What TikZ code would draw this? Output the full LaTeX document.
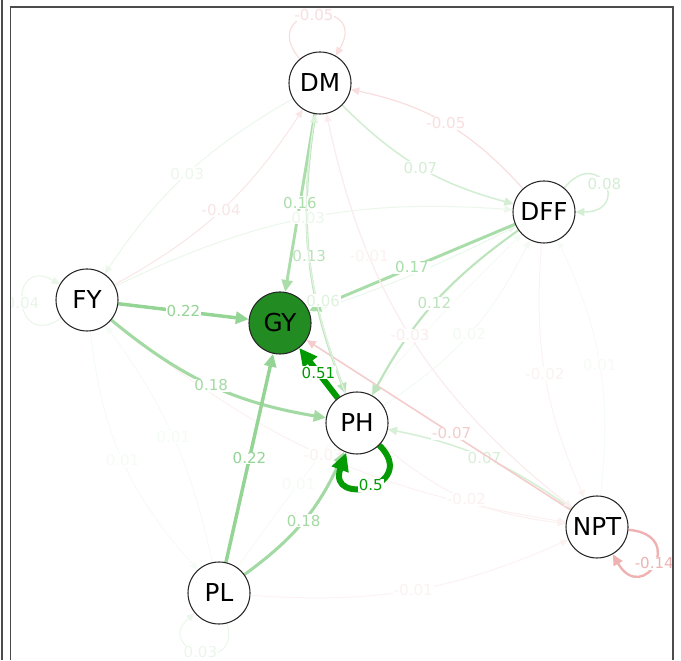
\documentclass[tikz,border=0pt]{standalone}
\usepackage{fontspec}
\setsansfont{DejaVu Sans}
\usetikzlibrary{arrows.meta,backgrounds}
\definecolor{posc}{HTML}{009900}
\definecolor{negc}{HTML}{C80000}
\definecolor{gynode}{HTML}{228B22}
\tikzset{
  var/.style={circle, draw=black!85, line width=0.8pt, fill=white, minimum size=46.5pt, inner sep=0pt, font=\sffamily\fontsize{18.5}{21}\selectfont},
  wt/.style={fill=white, inner sep=0.6pt, font=\sffamily\fontsize{11.3}{13}\selectfont},
  pe/.style 2 args={draw=posc!#1!white, text=posc!#1!white, line width=#2, -{Triangle[length=4.5pt 2, width=3.8pt 2]}},
  ne/.style 2 args={draw=negc!#1!white, text=negc!#1!white, line width=#2, -{Triangle[length=4.5pt 2, width=3.8pt 2]}},
  frame/.style={draw=black!70, line width=0.9pt},
}
\begin{document}
\begin{tikzpicture}[x=0.75pt,y=0.75pt]
\useasboundingbox (0,0) rectangle (681,660);
% variables
\node[var] (DM) at (320,577) {DM};
\node[var] (DFF) at (544,448) {DFF};
\node[var] (FY) at (87,360) {FY};
\node[var, fill=gynode] (GY) at (280,337) {GY};
\node[var] (PH) at (357,237) {PH};
\node[var] (NPT) at (597,133) {NPT};
\node[var] (PL) at (219,67) {PL};
\begin{scope}[on background layer]
\clip (10.5,0) rectangle (673,653);
% weak edges
\draw[pe={4}{0.75pt}] (FY) to[bend right=18] node[wt]{0.01} (PL);
\draw[pe={4}{0.75pt}] (PL) to[bend right=12] node[wt]{0.01} (FY);
\draw[pe={4}{0.75pt}] (PL) to[bend left=5] node[wt, pos=0.22]{0.01} (DFF);
\draw[ne={6}{0.75pt}] (FY) to[bend right=15] node[wt]{-0.03} (NPT);
\draw[pe={5}{0.75pt}] (PH) to[bend right=15] node[wt]{0.02} (DFF);
\draw[ne={5}{0.75pt}] (DFF) to[bend right=14] node[wt]{-0.02} (NPT);
\draw[pe={4}{0.75pt}] (NPT) to[bend right=16] node[wt]{0.01} (DFF);
\draw[ne={5}{0.75pt}] (PL) to[bend right=14] node[wt]{-0.01} (NPT);
\draw[ne={6}{0.75pt}] (PH) to[bend right=17] node[wt]{-0.02} (NPT);
\draw[pe={8}{0.75pt}] (DM) to[bend right=13] node[wt]{0.03} (FY);
\draw[ne={10}{0.75pt}] (FY) to[bend right=14] node[wt]{-0.04} (DM);
\draw[pe={8}{0.75pt}] (GY) to[bend right=4] (DFF);
% loops
\draw[ne={13}{0.9pt}] (DM) to[out=130,in=60,min distance=52pt] node[wt]{-0.05} (DM);
\draw[pe={17}{1.1pt}] (DFF) to[out=50,in=0,min distance=42pt] node[wt]{0.08} (DFF);
\draw[pe={9}{0.8pt}] (FY) to[out=215,in=150,min distance=45pt] node[wt]{0.04} (FY);
\draw[ne={30}{1.8pt}] (NPT) to[out=-5,in=-60,min distance=45pt] node[wt]{-0.14} (NPT);
\draw[pe={8}{0.8pt}] (PL) to[out=-75,in=-140,min distance=42pt] node[wt]{0.03} (PL);
% medium edges
\draw[ne={13}{0.9pt}] (DFF) to[bend right=18] node[wt]{-0.05} (DM);
\draw[pe={17}{1.2pt}] (DM) to[bend right=15] node[wt]{0.07} (DFF);
\draw[pe={16}{1.2pt}] (NPT) to[bend right=12] node[wt]{0.07} (PH);
\draw[ne={20}{1.2pt}] (NPT) -- node[wt, pos=0.45]{-0.07} (GY);
\draw[pe={26}{1.6pt}] (DFF) to[bend right=13] node[wt]{0.12} (PH);
\draw[pe={27}{1.7pt}] (DM) to[bend right=15] node[wt]{0.13} (PH);
\draw[pe={34}{2.2pt}] (DFF) -- node[wt]{0.17} (GY);
\draw[pe={33}{2.2pt}] (DM) -- node[wt]{0.16} (GY);
\draw[pe={36}{2.3pt}] (FY) to[bend right=15] node[wt]{0.18} (PH);
\draw[pe={36}{2.3pt}] (PL) to[bend right=15] node[wt]{0.18} (PH);
\draw[pe={42}{2.6pt}] (FY) -- node[wt]{0.22} (GY);
\draw[pe={42}{2.6pt}] (PL) -- node[wt]{0.22} (GY);
% faint edges whose labels sit on top
\draw[pe={8}{0.75pt}] (FY) to[bend left=15] node[wt]{0.03} (DFF);
\draw[ne={5}{0.75pt}] (DM) to[bend right=20] node[wt, pos=0.3]{-0.01} (NPT);
\draw[ne={7}{0.75pt}] (NPT) to[bend left=20] node[wt, pos=0.5]{-0.03} (DM);
\draw[pe={13}{1pt}] (PH) to[bend left=15] node[wt, pos=0.33, xshift=5pt]{0.06} (DM);
% strong edges
\draw[pe={100}{4.5pt}] (PH) -- node[wt]{0.51} (GY);
\draw[pe={98}{4.5pt}] (PH) to[out=-45,in=-110,min distance=44pt] node[wt]{0.5} (PH);
\end{scope}
% frame
\draw[frame] (2,0) -- (2,660);
\draw[frame] (10.5,0) -- (10.5,653) -- (673,653) -- (673,0);
\end{tikzpicture}
\end{document}
